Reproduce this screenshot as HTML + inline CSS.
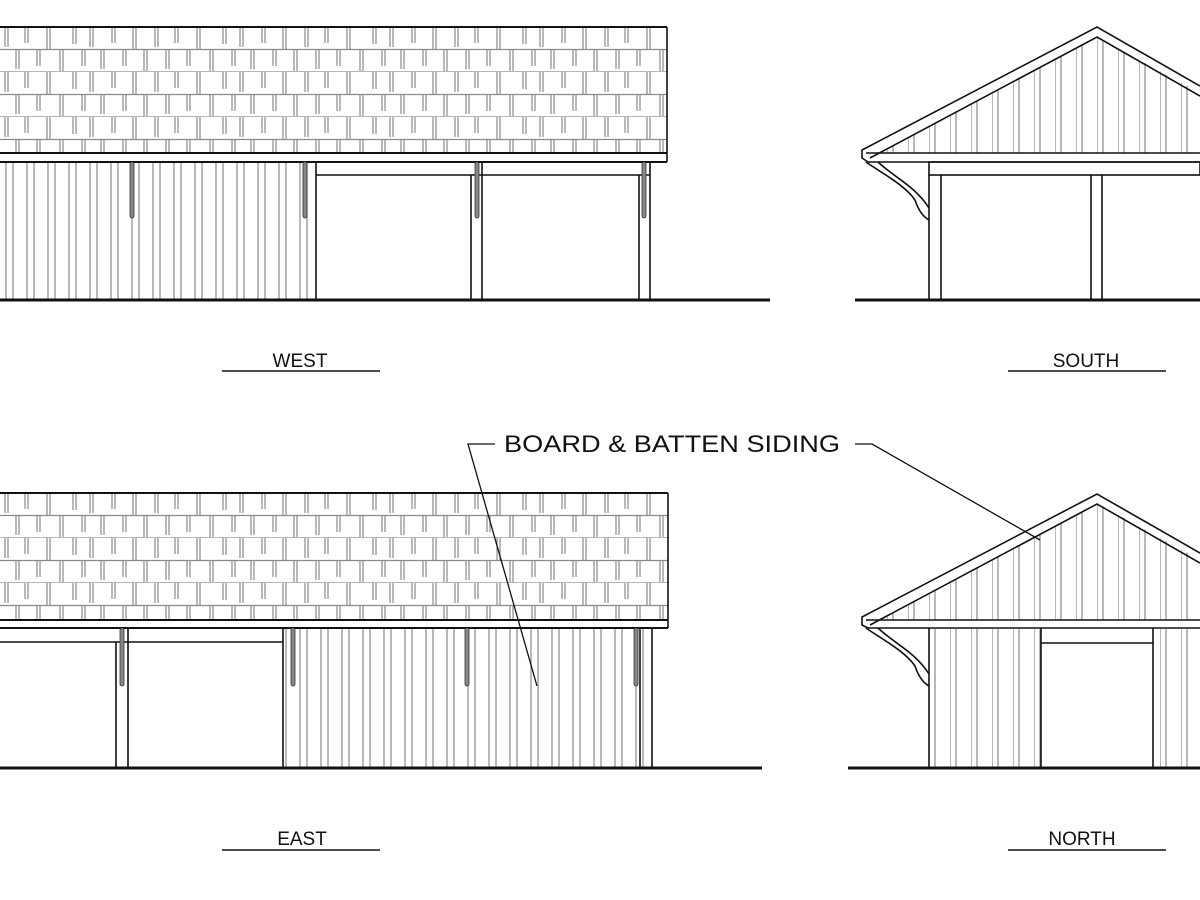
<!DOCTYPE html>
<html><head><meta charset="utf-8"><style>
html,body{margin:0;padding:0;background:#fff;}
svg{display:block}
text{font-family:"Liberation Sans",Arial,sans-serif;fill:#111}
</style></head><body>
<svg width="1200" height="900" viewBox="0 0 1200 900" xmlns="http://www.w3.org/2000/svg">
<defs>
 <pattern id="shA" x="0" y="27" width="150" height="45" patternUnits="userSpaceOnUse">
  <g stroke="#8a8a8a" stroke-width="1.2" fill="none">
   <line x1="0" y1="22.5" x2="150" y2="22.5"/>
   <line x1="0" y1="45" x2="150" y2="45"/>
   <path d="M5 0V20M8 0V20M25 0V16M28 0V16M47 0V22M50 0V22M73 0V17M76 0V17M90 0V20M93 0V20M112 0V16M115 0V16M133 0V22M136 0V22"/>
   <path d="M16 22.5V42M19 22.5V42M37 22.5V39M40 22.5V39M60 22.5V44M63 22.5V44M82 22.5V39M85 22.5V39M101 22.5V42M104 22.5V42M123 22.5V39M126 22.5V39M144 22.5V44M147 22.5V44"/>
  </g>
 </pattern>
 <pattern id="shB" x="0" y="493" width="150" height="45" patternUnits="userSpaceOnUse">
  <use href="#shTile"/>
  <g stroke="#8a8a8a" stroke-width="1.2" fill="none">
   <line x1="0" y1="22.5" x2="150" y2="22.5"/>
   <line x1="0" y1="45" x2="150" y2="45"/>
   <path d="M5 0V20M8 0V20M25 0V16M28 0V16M47 0V22M50 0V22M73 0V17M76 0V17M90 0V20M93 0V20M112 0V16M115 0V16M133 0V22M136 0V22"/>
   <path d="M16 22.5V42M19 22.5V42M37 22.5V39M40 22.5V39M60 22.5V44M63 22.5V44M82 22.5V39M85 22.5V39M101 22.5V42M104 22.5V42M123 22.5V39M126 22.5V39M144 22.5V44M147 22.5V44"/>
  </g>
 </pattern>
 <pattern id="sid" x="0" y="0" width="21" height="10" patternUnits="userSpaceOnUse">
  <g stroke="#8a8a8a" stroke-width="1.2"><line x1="6" y1="0" x2="6" y2="10"/><line x1="13" y1="0" x2="13" y2="10"/></g>
 </pattern>
 <pattern id="sidG" x="1097" y="0" width="21" height="10" patternUnits="userSpaceOnUse">
  <g stroke="#8a8a8a" stroke-width="1.2"><line x1="0" y1="0" x2="0" y2="10"/><line x1="6" y1="0" x2="6" y2="10"/></g>
 </pattern>
</defs>

<g stroke="#111" fill="none" stroke-width="1.6">
<!-- ===== WEST ===== -->
<rect x="0" y="27" width="667" height="126" fill="url(#shA)" stroke="none"/>
<line x1="0" y1="27" x2="667" y2="27" stroke-width="2"/>
<line x1="667" y1="27" x2="667" y2="162"/>
<line x1="0" y1="153" x2="667" y2="153" stroke-width="2"/>
<line x1="0" y1="162" x2="667" y2="162" stroke-width="2"/>
<rect x="0" y="163" width="315" height="136" fill="url(#sid)" stroke="none"/>
<line x1="316" y1="162" x2="316" y2="300"/>
<line x1="316" y1="175" x2="650" y2="175"/>
<line x1="471" y1="175" x2="471" y2="300"/><line x1="482" y1="162" x2="482" y2="300"/>
<line x1="639" y1="175" x2="639" y2="300"/><line x1="650" y1="162" x2="650" y2="300"/>
<g fill="#888" stroke="#333" stroke-width="0.8">
<rect x="130" y="162" width="4" height="56" rx="2"/><rect x="303" y="162" width="4" height="56" rx="2"/>
<rect x="475" y="162" width="4" height="56" rx="2"/><rect x="642" y="162" width="4" height="56" rx="2"/>
</g>
<line x1="0" y1="300" x2="770" y2="300" stroke-width="3"/>

<!-- ===== EAST ===== -->
<rect x="0" y="493" width="668" height="127" fill="url(#shB)" stroke="none"/>
<line x1="0" y1="493" x2="668" y2="493" stroke-width="2"/>
<line x1="668" y1="493" x2="668" y2="628"/>
<line x1="0" y1="620" x2="668" y2="620" stroke-width="2"/>
<line x1="0" y1="628" x2="668" y2="628" stroke-width="2"/>
<line x1="0" y1="642" x2="283" y2="642"/>
<line x1="116" y1="642" x2="116" y2="768"/><line x1="128" y1="628" x2="128" y2="768"/>
<rect x="284" y="629" width="368" height="139" fill="url(#sid)" stroke="none"/>
<line x1="283" y1="628" x2="283" y2="768"/>
<line x1="640" y1="628" x2="640" y2="768"/><line x1="652" y1="628" x2="652" y2="768"/>
<g fill="#888" stroke="#333" stroke-width="0.8">
<rect x="120" y="628" width="4" height="58" rx="2"/><rect x="291" y="628" width="4" height="58" rx="2"/>
<rect x="465" y="628" width="4" height="58" rx="2"/><rect x="634" y="628" width="4" height="58" rx="2"/>
</g>
<line x1="0" y1="768" x2="762" y2="768" stroke-width="3"/>

<!-- ===== SOUTH ===== -->
<polygon points="1097,37 880,153 1200,153 1200,93" fill="url(#sidG)" stroke="none"/>
<polyline points="1200,86 1097,27 862,150 862,158 868,162"/>
<polyline points="1200,96 1097,37 870,158"/>
<line x1="866" y1="153" x2="1200" y2="153"/>
<line x1="868" y1="162" x2="1200" y2="162"/>
<rect x="929" y="162" width="271" height="13"/>
<line x1="929" y1="175" x2="929" y2="300"/><line x1="941" y1="175" x2="941" y2="300"/>
<line x1="1091" y1="175" x2="1091" y2="300"/><line x1="1102" y1="175" x2="1102" y2="300"/>
<path d="M866 162 C880 172 905 185 915 200 Q920 215 929 220 M878 162 C895 178 915 186 929 208" />
<line x1="855" y1="300" x2="1200" y2="300" stroke-width="3"/>

<!-- ===== NORTH ===== -->
<polygon points="1097,503 880,620 1200,620 1200,560" fill="url(#sidG)" stroke="none"/>
<polyline points="1200,553 1097,494 862,617 862,625 868,628"/>
<polyline points="1200,563 1097,504 870,625"/>
<line x1="866" y1="620" x2="1200" y2="620"/>
<line x1="868" y1="628" x2="1200" y2="628"/>
<rect x="930" y="629" width="270" height="139" fill="url(#sidG)" stroke="none"/>
<rect x="1042" y="629" width="111" height="139" fill="#fff" stroke="none"/>
<line x1="929" y1="628" x2="929" y2="768"/>
<line x1="1041" y1="628" x2="1041" y2="768"/><line x1="1153" y1="628" x2="1153" y2="768"/>
<line x1="1041" y1="643" x2="1153" y2="643"/>
<path d="M866 628 C880 638 905 651 915 666 Q920 681 929 686 M878 628 C895 644 915 652 929 674" />
<line x1="848" y1="768" x2="1200" y2="768" stroke-width="3"/>

<!-- leaders -->
<g stroke-width="1.3">
<polyline points="495,444 468,444 537,686"/>
<polyline points="855,444 872,444 1040,540"/>
</g>
<!-- label underlines -->
<g stroke-width="1.6">
<line x1="222" y1="371" x2="380" y2="371"/>
<line x1="1008" y1="371" x2="1166" y2="371"/>
<line x1="222" y1="850" x2="380" y2="850"/>
<line x1="1008" y1="850" x2="1166" y2="850"/>
</g>
</g>

<text x="300" y="367" font-size="19" text-anchor="middle">WEST</text>
<text x="1086" y="367" font-size="19" text-anchor="middle">SOUTH</text>
<text x="302" y="845" font-size="19" text-anchor="middle">EAST</text>
<text x="1082" y="845" font-size="19" text-anchor="middle">NORTH</text>
<text x="504" y="452" font-size="24" textLength="336" lengthAdjust="spacingAndGlyphs">BOARD &amp; BATTEN SIDING</text>
</svg>
</body></html>
